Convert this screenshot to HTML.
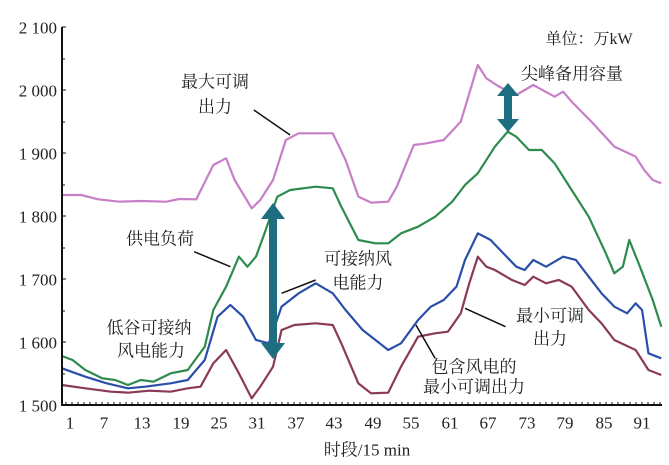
<!DOCTYPE html>
<html><head><meta charset="utf-8"><style>
body{margin:0;background:#fff;}
#c{position:relative;width:669px;height:465px;overflow:hidden;font-family:"Liberation Serif","Noto Serif CJK SC",serif;color:#222;}
.t{position:absolute;transform:translate(-50%,-50%);white-space:nowrap;font-size:17px;line-height:1;}
.y{position:absolute;right:612px;transform:translateY(-50%);font-size:17px;line-height:1;white-space:nowrap;}
svg{position:absolute;left:0;top:0;}
</style></head><body><div id="c">
<svg width="669" height="465" viewBox="0 0 669 465">
<g transform="scale(0.42662,0.33333)" fill="none" stroke-width="2.2" stroke-linejoin="round">
<polyline vector-effect="non-scaling-stroke" stroke="#c77fc7" points="145,585 190,585 230,598 280,605 330,603 390,605 420,597 460,598 500,495 530,475 550,540 590,625 610,600 640,540 670,420 700,400 780,400 810,480 840,590 870,608 910,605 930,560 970,435 1000,430 1040,420 1080,365 1120,195 1140,235 1170,260 1210,285 1250,255 1300,290 1320,275 1340,305 1390,370 1440,440 1490,470 1510,510 1530,540 1550,550"/>
<polyline vector-effect="non-scaling-stroke" stroke="#2e8b4e" points="145,1068 170,1080 200,1110 240,1135 270,1140 300,1155 330,1140 360,1145 400,1120 440,1110 480,1040 500,930 530,860 560,770 580,800 600,770 620,700 650,590 680,570 740,560 780,565 800,620 840,720 880,730 910,730 940,700 980,680 1020,650 1060,605 1090,555 1120,520 1160,440 1190,395 1210,410 1240,450 1270,450 1300,490 1340,570 1380,650 1420,760 1440,820 1460,800 1475,720 1500,800 1530,900 1550,980"/>
<polyline vector-effect="non-scaling-stroke" stroke="#2a4fa8" points="145,1105 200,1130 250,1150 300,1165 340,1160 400,1150 440,1140 480,1080 510,950 540,915 570,950 600,1020 630,1030 660,920 700,880 740,850 780,880 810,930 850,990 880,1020 910,1050 940,1030 980,960 1010,920 1040,900 1070,860 1090,780 1120,700 1150,720 1180,760 1210,800 1230,810 1250,780 1280,800 1320,770 1350,780 1380,830 1410,880 1440,920 1470,940 1490,910 1505,930 1520,1060 1550,1075"/>
<polyline vector-effect="non-scaling-stroke" stroke="#8b3a55" points="145,1155 200,1165 260,1175 300,1178 350,1172 400,1175 440,1165 470,1160 500,1090 530,1050 560,1120 590,1195 610,1160 640,1100 660,990 690,975 740,970 780,975 800,1030 840,1150 870,1180 910,1178 940,1100 980,1010 1020,1000 1050,995 1080,940 1100,850 1120,770 1140,800 1160,810 1200,840 1230,855 1250,830 1280,850 1310,840 1340,860 1380,930 1410,970 1440,1020 1490,1050 1520,1110 1550,1125"/>
<g stroke="#111" stroke-width="1.5">
<line vector-effect="non-scaling-stroke" x1="595" y1="330" x2="680" y2="405"/>
<line vector-effect="non-scaling-stroke" x1="455" y1="755" x2="540" y2="800"/>
<line vector-effect="non-scaling-stroke" x1="660" y1="880" x2="740" y2="840"/>
<line vector-effect="non-scaling-stroke" x1="1090" y1="925" x2="1185" y2="980"/>
<line vector-effect="non-scaling-stroke" x1="975" y1="975" x2="1020" y2="1075"/>
</g>
</g>
<!-- arrows -->
<g fill="#1d6e80">
<rect x="269" y="215" width="8" height="130"/>
<polygon points="273,203 261,219 285,219"/>
<polygon points="273,359 261,343 285,343"/>
<rect x="504" y="92" width="8" height="30"/>
<polygon points="508,83 497,96 519,96"/>
<polygon points="508,132 497,119 519,119"/>
</g>
<!-- axes -->
<g stroke="#111" stroke-width="2" fill="none">
<line x1="62" y1="27" x2="62" y2="405"/>
<line x1="61" y1="405" x2="662" y2="405"/>
</g>
<g stroke="#111" stroke-width="1">
<path d="M62 27h4M62 59h3M62 90h4M62 122h3M62 153h4M62 185h3M62 216h4M62 248h3M62 279h4M62 311h3M62 342h4M62 374h3"/>
<path d="M66 405v-3M72 405v-3M78 405v-3M84 405v-3M90 405v-3M96 405v-3M102 405v-3M108 405v-3M114 405v-3M120 405v-3M126 405v-3M132 405v-3M138 405v-3M144 405v-3M150 405v-3M156 405v-3M162 405v-3M168 405v-3M174 405v-3M180 405v-3M186 405v-3M192 405v-3M198 405v-3M204 405v-3M210 405v-3M216 405v-3M222 405v-3M228 405v-3M234 405v-3M240 405v-3M246 405v-3M252 405v-3M258 405v-3M264 405v-3M270 405v-3M276 405v-3M282 405v-3M288 405v-3M294 405v-3M300 405v-3M306 405v-3M312 405v-3M318 405v-3M324 405v-3M330 405v-3M336 405v-3M342 405v-3M348 405v-3M354 405v-3M360 405v-3M366 405v-3M372 405v-3M378 405v-3M384 405v-3M390 405v-3M396 405v-3M402 405v-3M408 405v-3M414 405v-3M420 405v-3M426 405v-3M432 405v-3M438 405v-3M444 405v-3M450 405v-3M456 405v-3M462 405v-3M468 405v-3M474 405v-3M480 405v-3M486 405v-3M492 405v-3M498 405v-3M504 405v-3M510 405v-3M516 405v-3M522 405v-3M528 405v-3M534 405v-3M540 405v-3M546 405v-3M552 405v-3M558 405v-3M564 405v-3M570 405v-3M576 405v-3M582 405v-3M588 405v-3M594 405v-3M600 405v-3M606 405v-3M612 405v-3M618 405v-3M624 405v-3M630 405v-3M636 405v-3M642 405v-3M648 405v-3M654 405v-3M660 405v-3"/>
</g>
</svg>
<div class="y" style="top:28px">2 100</div>
<div class="y" style="top:91px">2 000</div>
<div class="y" style="top:154px">1 900</div>
<div class="y" style="top:217px">1 800</div>
<div class="y" style="top:280px">1 700</div>
<div class="y" style="top:343px">1 600</div>
<div class="y" style="top:406px">1 500</div>
<div class="t" style="left:70px;top:423px">1</div>
<div class="t" style="left:104px;top:423px">7</div>
<div class="t" style="left:142px;top:423px">13</div>
<div class="t" style="left:181px;top:423px">19</div>
<div class="t" style="left:219px;top:423px">25</div>
<div class="t" style="left:257px;top:423px">31</div>
<div class="t" style="left:296px;top:423px">37</div>
<div class="t" style="left:334px;top:423px">43</div>
<div class="t" style="left:373px;top:423px">49</div>
<div class="t" style="left:411px;top:423px">55</div>
<div class="t" style="left:450px;top:423px">61</div>
<div class="t" style="left:488px;top:423px">67</div>
<div class="t" style="left:527px;top:423px">73</div>
<div class="t" style="left:565px;top:423px">79</div>
<div class="t" style="left:604px;top:423px">85</div>
<div class="t" style="left:642px;top:423px">91</div>
<div class="t" style="left:367px;top:450px">时段/15 min</div>
<div class="t" style="left:589px;top:40px;font-size:16px">单位：万kW</div>
<div class="t" style="left:572px;top:74px">尖峰备用容量</div>
<div class="t" style="left:215px;top:82px">最大可调</div>
<div class="t" style="left:215px;top:107px">出力</div>
<div class="t" style="left:160px;top:239px">供电负荷</div>
<div class="t" style="left:358px;top:259px">可接纳风</div>
<div class="t" style="left:358px;top:283px">电能力</div>
<div class="t" style="left:149px;top:328px">低谷可接纳</div>
<div class="t" style="left:151px;top:351px">风电能力</div>
<div class="t" style="left:550px;top:316px">最小可调</div>
<div class="t" style="left:550px;top:339px">出力</div>
<div class="t" style="left:474px;top:367px">包含风电的</div>
<div class="t" style="left:474px;top:387px">最小可调出力</div>
</div></body></html>
